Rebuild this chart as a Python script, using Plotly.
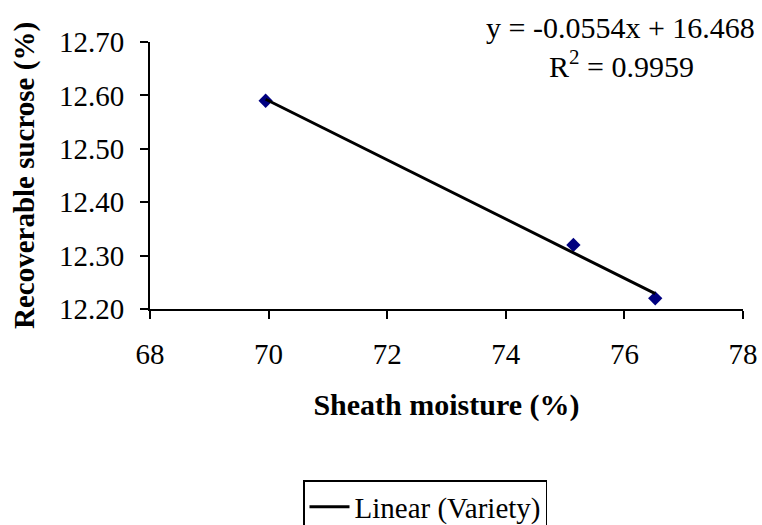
import plotly.graph_objects as go

# Data
sheath_moisture = [69.95, 75.14, 76.52]
recoverable_sucrose = [12.59, 12.32, 12.22]
slope = -0.0554
intercept = 16.468
r_squared = 0.9959
x_ticks = [68, 70, 72, 74, 76, 78]
y_ticks = [12.20, 12.30, 12.40, 12.50, 12.60, 12.70]

FONT = "Liberation Serif, Times New Roman, serif"

x_line = [min(sheath_moisture), max(sheath_moisture)]
y_line = [slope * v + intercept for v in x_line]

fig = go.Figure()
fig.add_trace(go.Scatter(
    x=sheath_moisture, y=recoverable_sucrose, mode="markers",
    marker=dict(symbol="diamond", size=11, color="#000080"),
    name="Variety", showlegend=False,
))
fig.add_trace(go.Scatter(
    x=x_line, y=y_line, mode="lines",
    line=dict(color="black", width=3),
    name="Linear (Variety)", showlegend=True,
))

fig.update_layout(
    width=762, height=525,
    margin=dict(l=150, r=19, t=42, b=216, autoexpand=False),
    paper_bgcolor="white", plot_bgcolor="white",
    font=dict(family=FONT, color="black", size=29),
    xaxis=dict(
        range=[68, 78], tickvals=x_ticks, ticktext=[str(t) for t in x_ticks],
        showline=True, linecolor="black", linewidth=2,
        ticks="outside", ticklen=8, tickwidth=2, tickcolor="black",
        ticklabelstandoff=10,
        showgrid=False, zeroline=False, automargin=False,
        tickfont=dict(family=FONT, size=29),
        title=dict(text="<b>Sheath moisture (%)</b>", font=dict(family=FONT, size=30), standoff=25),
    ),
    yaxis=dict(
        range=[12.20, 12.70], tickvals=y_ticks, ticktext=[f"{t:.2f}" for t in y_ticks],
        showline=True, linecolor="black", linewidth=2,
        ticks="outside", ticklen=8, tickwidth=2, tickcolor="black",
        ticklabelstandoff=10,
        showgrid=False, zeroline=False, automargin=False,
        tickfont=dict(family=FONT, size=29),
        title=dict(text="<b>Recoverable sucrose (%)</b>", font=dict(family=FONT, size=29), standoff=16),
    ),
    legend=dict(
        x=(303 - 150) / 593, y=(309 - 480) / 267, xanchor="left", yanchor="top",
        bordercolor="black", borderwidth=1.5, bgcolor="white",
        font=dict(family=FONT, size=29),
        itemwidth=40,
    ),
    annotations=[
        dict(text=f"y = {slope}x + {intercept}", xref="paper", yref="paper",
             x=(620 - 150) / 593, y=(309 - 27) / 267, xanchor="center", yanchor="middle",
             showarrow=False, font=dict(family=FONT, size=30)),
        dict(text=f"R<sup>2</sup> = {r_squared}", xref="paper", yref="paper",
             x=(621 - 150) / 593, y=(309 - 64) / 267, xanchor="center", yanchor="middle",
             showarrow=False, font=dict(family=FONT, size=30)),
    ],
)

fig.write_html("out.html", config={"displayModeBar": False},
               post_script="document.body.style.margin='0';")
